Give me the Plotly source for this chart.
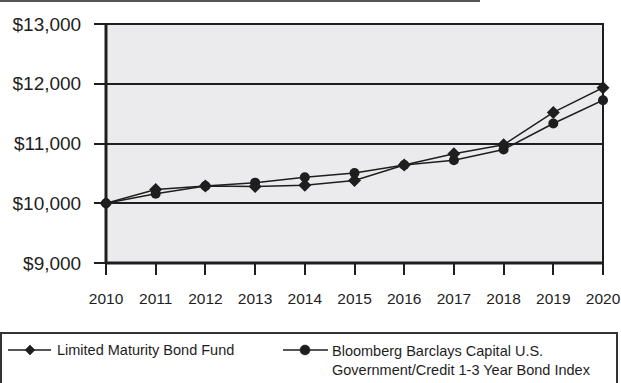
import plotly.graph_objects as go

years = list(range(2010, 2021))
fund = [10000, 10230, 10290, 10280, 10300, 10380, 10640, 10830, 10980, 11520, 11935]
index = [10000, 10160, 10290, 10345, 10435, 10505, 10640, 10720, 10900, 11335, 11725]
y_ticks = [9000, 10000, 11000, 12000, 13000]

fund_name = "Limited Maturity Bond Fund"
index_name = "Bloomberg Barclays Capital U.S.<br>Government/Credit 1-3 Year Bond Index"

W, H = 621, 383
L, R, T, B = 106, 18, 24, 120
PW, PH = W - L - R, H - T - B

def px(x):
    return (x - L) / PW

def py(y):
    return (H - B - y) / PH

INK = "#1e1e1e"
FONT = "Liberation Sans"

fig = go.Figure()
fig.add_trace(go.Scatter(
    x=years, y=index, mode="lines+markers", name=index_name,
    line=dict(color=INK, width=1.5),
    marker=dict(symbol="circle", size=10, color=INK),
    showlegend=False, cliponaxis=False,
))
fig.add_trace(go.Scatter(
    x=years, y=fund, mode="lines+markers", name=fund_name,
    line=dict(color=INK, width=1.5),
    marker=dict(symbol="diamond", size=10, color=INK),
    showlegend=False, cliponaxis=False,
))

shapes = []
# rule across the top of the page
shapes.append(dict(type="line", xref="paper", yref="paper",
                   x0=px(0), x1=px(480), y0=py(1), y1=py(1),
                   line=dict(color="#555555", width=2)))
# plot frame
shapes.append(dict(type="rect", xref="paper", yref="paper", x0=0, x1=1, y0=0, y1=1,
                   line=dict(color=INK, width=2), layer="above"))
shapes.append(dict(type="line", xref="paper", yref="paper", x0=0, x1=0, y0=0, y1=1,
                   line=dict(color=INK, width=3), layer="above"))
shapes.append(dict(type="line", xref="paper", yref="paper", x0=0, x1=1, y0=0, y1=0,
                   line=dict(color=INK, width=3), layer="above"))
# legend box
shapes.append(dict(type="rect", xref="paper", yref="paper",
                   x0=px(1), x1=px(617), y0=py(333), y1=py(395),
                   line=dict(color="#333333", width=2)))

# legend keys
ly = 350
for x0, x1, xm, sym in [(8, 51, 30, "diamond"), (283, 328, 305, "circle")]:
    shapes.append(dict(type="line", xref="paper", yref="paper",
                       x0=px(x0), x1=px(x1), y0=py(ly), y1=py(ly),
                       line=dict(color=INK, width=1.5)))
    r = 5
    if sym == "diamond":
        path = (f"M {px(xm - r)} {py(ly)} L {px(xm)} {py(ly - r)} "
                f"L {px(xm + r)} {py(ly)} L {px(xm)} {py(ly + r)} Z")
        shapes.append(dict(type="path", xref="paper", yref="paper", path=path,
                           fillcolor=INK, line=dict(color=INK, width=0.5)))
    else:
        shapes.append(dict(type="circle", xref="paper", yref="paper",
                           x0=px(xm - r), x1=px(xm + r), y0=py(ly + r), y1=py(ly - r),
                           fillcolor=INK, line=dict(color=INK, width=0.5)))

annotations = [
    dict(text=fund_name, xref="paper", yref="paper", x=px(55), y=py(ly),
         xanchor="left", yanchor="middle", showarrow=False,
         font=dict(size=14.5, color=INK, family=FONT)),
    dict(text=index_name, xref="paper", yref="paper", x=px(330), y=py(360),
         xanchor="left", yanchor="middle", showarrow=False, align="left",
         font=dict(size=14.5, color=INK, family=FONT)),
]

fig.update_layout(
    width=W, height=H,
    margin=dict(l=L, r=R, t=T, b=B, pad=0, autoexpand=False),
    paper_bgcolor="white",
    plot_bgcolor="#ebebed",
    font=dict(family=FONT, color=INK),
    shapes=shapes,
    annotations=annotations,
    showlegend=False,
)
fig.update_xaxes(
    range=[2010, 2020], tickmode="array", tickvals=years,
    ticks="outside", ticklen=11, tickwidth=1.5, tickcolor=INK,
    showgrid=False, zeroline=False, showline=False, automargin=False,
    ticklabeloverflow="allow",
    tickfont=dict(size=15.5, color=INK, family=FONT), ticklabelstandoff=10,
)
fig.update_yaxes(
    range=[9000, 13000], tickmode="array", tickvals=y_ticks,
    ticktext=[f"${v:,}" for v in y_ticks],
    ticks="outside", ticklen=11, tickwidth=1.5, tickcolor=INK,
    showgrid=True, gridcolor=INK, gridwidth=1.5, zeroline=False, showline=False,
    automargin=False,
    tickfont=dict(size=19, color=INK, family=FONT), ticklabelstandoff=9,
)

fig.write_html("out.html")
